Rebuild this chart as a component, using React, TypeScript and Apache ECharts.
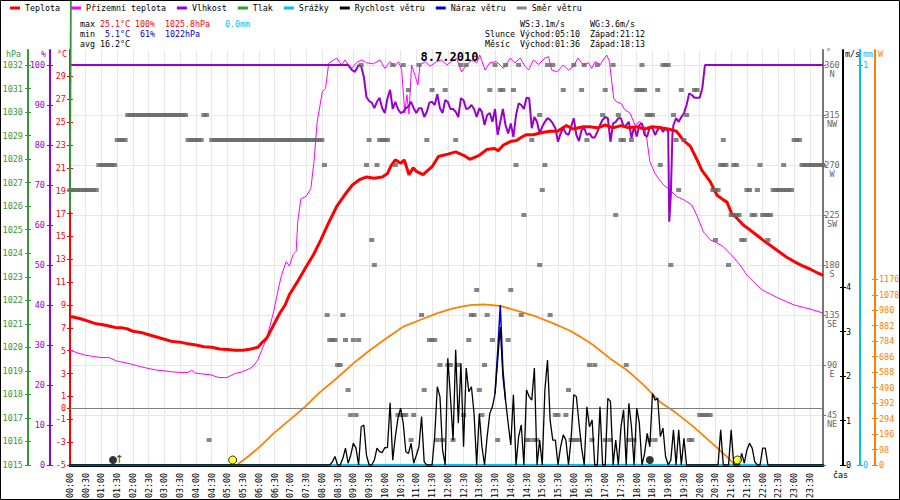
import React, { useEffect, useRef } from "react";
import * as echarts from "echarts";

// ---------- data (time in minutes after midnight) ----------
const legendNames = ["Teplota", "Přízemní teplota", "Vlhkost", "Tlak", "Srážky", "Rychlost větru", "Náraz větru", "Směr větru"];

const temperature: [number, number][] = [
  [0, 8.0], [10, 7.9], [20, 7.8], [30, 7.65], [40, 7.5], [50, 7.35], [60, 7.3], [70, 7.2], [80, 7.1], [90, 7.0], [100, 7.0], [110, 6.9],
  [120, 6.7], [135, 6.6], [150, 6.4], [165, 6.2], [180, 6.0], [195, 5.8], [210, 5.75], [225, 5.6], [240, 5.5], [255, 5.35], [270, 5.3],
  [285, 5.15], [300, 5.1], [315, 5.05], [330, 5.05], [345, 5.15], [358, 5.3], [368, 5.8], [375, 6.1], [388, 7.25], [400, 8.3], [410, 9.0],
  [418, 9.9], [433, 11.0], [448, 12.2], [464, 13.4], [478, 14.7], [493, 16.2], [508, 17.6], [523, 18.6], [538, 19.5], [553, 20.0],
  [565, 20.2], [580, 20.1], [595, 20.2], [605, 20.5], [612, 21.2], [620, 21.7], [630, 21.4], [637, 21.7], [646, 20.4], [654, 21.0],
  [660, 20.7], [673, 20.4], [690, 21.1], [702, 22.0], [720, 22.2], [735, 22.4], [750, 22.1], [762, 21.75], [780, 22.1], [794, 22.6],
  [809, 22.7], [816, 22.5], [826, 23.0], [839, 23.3], [851, 23.4], [861, 23.7], [870, 23.9], [883, 23.9], [900, 24.1], [915, 24.2],
  [929, 24.2], [946, 24.7], [959, 24.4], [978, 24.6], [990, 24.6], [1005, 24.5], [1020, 24.75], [1035, 24.5], [1050, 24.7], [1065, 24.5],
  [1080, 24.6], [1095, 24.4], [1110, 24.6], [1125, 24.5], [1140, 24.4], [1156, 24.2], [1169, 23.4], [1182, 22.9], [1194, 21.8],
  [1204, 20.8], [1220, 19.8], [1233, 18.6], [1245, 18.2], [1252, 18.0], [1261, 17.0], [1271, 16.6], [1283, 16.0], [1295, 15.6],
  [1309, 15.1], [1320, 14.7], [1335, 14.2], [1350, 13.7], [1365, 13.2], [1380, 12.8], [1395, 12.45], [1410, 12.15], [1425, 11.8], [1435, 11.6],
];

const groundTemperature: [number, number][] = [
  [0, 5.05], [15, 4.8], [30, 4.6], [45, 4.5], [59, 4.4], [75, 4.4], [89, 4.1], [105, 3.95], [119, 3.8], [135, 3.6], [149, 3.45],
  [165, 3.3], [178, 3.25], [195, 3.15], [208, 3.1], [225, 3.1], [232, 3.3], [238, 3.05], [255, 2.95], [268, 2.9], [280, 2.7], [286, 2.65],
  [299, 2.65], [314, 3.0], [328, 3.15], [343, 3.45], [350, 3.7], [358, 4.2], [365, 5.0], [375, 6.1], [388, 8.4], [397, 10.4], [403, 11.6],
  [412, 12.8], [418, 12.4], [425, 13.4], [431, 13.7], [434, 16.3], [440, 18.3], [450, 18.5], [459, 19.2], [465, 21.55], [471, 25.0],
  [481, 27.7], [487, 27.95], [493, 30.15], [508, 30.6], [518, 30.0], [524, 30.44], [531, 30.0], [537, 29.7], [546, 30.2], [556, 30.44],
  [565, 30.2], [578, 30.1], [591, 30.44], [600, 29.7], [610, 30.3], [619, 29.9], [626, 30.3], [632, 29.6], [638, 25.8], [642, 27.4],
  [646, 25.7], [651, 30.0], [658, 29.0], [663, 28.25], [667, 30.0], [677, 30.3], [686, 29.9], [699, 30.3], [708, 30.44], [718, 30.0],
  [727, 30.3], [737, 30.6], [746, 29.4], [756, 30.0], [766, 30.44], [775, 30.2], [781, 30.87], [791, 29.56], [800, 30.2], [813, 30.3],
  [826, 29.7], [839, 30.6], [848, 30.2], [858, 30.6], [867, 29.9], [874, 29.56], [883, 30.44], [893, 30.05], [905, 30.6], [912, 30.73],
  [918, 29.56], [928, 29.4], [940, 30.0], [950, 29.56], [959, 29.85], [968, 30.6], [978, 30.0], [988, 30.2], [994, 29.7], [1001, 30.3],
  [1010, 30.0], [1016, 30.44], [1023, 30.87], [1028, 30.3], [1036, 27.1], [1041, 26.8], [1051, 26.6], [1057, 26.1], [1067, 25.8],
  [1077, 24.75], [1086, 25.05], [1094, 24.6], [1099, 23.6], [1105, 21.55], [1115, 20.5], [1121, 20.1], [1131, 19.5], [1140, 19.2],
  [1156, 18.5], [1170, 18.2], [1185, 17.75], [1194, 16.9], [1207, 15.4], [1220, 14.7], [1230, 14.5], [1245, 14.1], [1260, 13.4],
  [1277, 12.5], [1290, 11.6], [1309, 10.75], [1320, 10.3], [1350, 9.6], [1380, 9.0], [1410, 8.65], [1435, 8.3],
];

const humidity: [number, number][] = [
  [0, 100], [530, 100], [537, 98.8], [543, 98.3], [550, 100], [555, 99.6], [560, 97], [565, 92], [570, 91], [575, 90.6], [580, 89.2],
  [585, 90.8], [590, 91.8], [595, 89.2], [600, 88], [605, 91.7], [610, 93.8], [615, 89], [620, 90.8], [625, 89], [630, 88], [635, 88.3],
  [640, 89.2], [645, 89.6], [650, 90.8], [655, 89.2], [660, 88], [665, 89.2], [670, 89.2], [675, 87], [680, 88.3], [685, 90.6],
  [690, 90.8], [695, 90], [700, 92.7], [705, 89.2], [710, 88], [715, 91.2], [720, 90.8], [725, 89], [730, 89], [735, 88.3], [740, 87],
  [745, 91.7], [750, 91.2], [755, 89], [760, 89.2], [765, 90], [770, 89], [775, 87], [780, 89.2], [785, 88.3], [790, 85], [795, 87.5],
  [800, 88], [805, 85.8], [810, 89], [815, 82.5], [820, 85.8], [825, 89], [830, 85], [835, 82.9], [840, 85.4], [845, 82], [850, 87.5],
  [855, 90.4], [860, 90], [865, 89], [870, 91.8], [875, 91.7], [880, 84.2], [885, 87], [890, 85.8], [895, 82.9], [900, 84.6], [905, 85.8],
  [910, 86.7], [915, 86.3], [920, 85.4], [925, 84.2], [930, 80.8], [935, 82.9], [940, 84.2], [945, 82.9], [950, 82.5], [955, 84.6],
  [960, 86.7], [965, 82.5], [970, 81], [975, 83.8], [980, 84.2], [985, 82.5], [990, 82.9], [995, 81.9], [1000, 81.9], [1005, 83.3],
  [1010, 85], [1015, 86.3], [1020, 87], [1025, 86.7], [1030, 80.8], [1035, 85.4], [1040, 85.8], [1045, 86.7], [1050, 86.7], [1055, 84.6],
  [1060, 85], [1065, 85.8], [1070, 81.7], [1075, 84.6], [1080, 82.1], [1085, 85], [1090, 85.4], [1095, 82.5], [1100, 82.1], [1105, 84.6],
  [1110, 84.2], [1115, 82.5], [1120, 83.8], [1125, 84.6], [1130, 83.3], [1135, 84.2], [1140, 83.3], [1142, 60.8], [1145, 67.5],
  [1148, 82.5], [1150, 85], [1155, 86.7], [1160, 85.8], [1165, 87], [1170, 87.9], [1175, 90], [1180, 92.9], [1185, 92.5], [1190, 91.8],
  [1195, 91.8], [1200, 91.8], [1205, 94.2], [1210, 100], [1435, 100],
];

// pressure: only an off-scale first reading is visible, at the very start of the day
const pressureTimes = [0, 1.5];
const pressureValues = [1025.8, 1034.9];
const rain: [number, number][] = [[0, 0], [1435, 0]];

// wind speed, 5-minute samples from 08:00 (one row = one hour)
const windStart = 480;
const windStep = 5;
const windSpeed: number[] = [
  0, 0, 0, 0, 0.07, 0.19, 0, 0, 0.15, 0.38, 0.04, 0.22,
  0.49, 0.38, 0, 0.86, 0.9, 0.22, 0, 0, 0.11, 0.38, 0.3, 0.28,
  0.39, 0.39, 1.4, 0.11, 0.64, 1.05, 1.28, 0.94, 0.3, 0.26, 0.49, 0.04,
  0.22, 0.41, 1.09, 0.07, 0, 0, 0, 0.64, 1.76, 1.54, 0.34, 0,
  2.4, 1.54, 0.56, 2.59, 0.94, 2.29, 0.41, 2.18, 1.65, 1.76, 1.16, 0,
  1.16, 0.41, 0, 0.64, 1.16, 1.31, 1.61, 2.36, 3.1, 1.99, 1.46, 0.94,
  0.45, 1.58, 0, 0.64, 0.9, 0, 1.69, 1.54, 1.46, 2.18, 0, 0.56,
  0, 1.69, 2.36, 1.01, 0.56, 0.56, 0, 0.41, 0.68, 0.56, 0, 0.6,
  1.58, 1.54, 0.94, 0.38, 0, 1.31, 0.86, 1.01, 0, 0, 1.31, 0,
  0, 1.5, 1.43, 0, 0.56, 0, 0.86, 1.24, 0, 1.39, 0.86, 0,
  1.28, 0.94, 0, 0.26, 0.71, 0.41, 1.61, 1.46, 1.5, 0.64, 0.83, 0.19,
  0, 0.11, 0.79, 0, 0.79, 0, 0.6, 0, 0, 0, 0, 0,
  0, 0, 0, 0, 0, 0, 0, 0, 0.79, 0, 0, 0,
  0.79, 0, 0, 0, 0.26, 0.04, 0.34, 0.49, 0.38, 0.07, 0, 0,
  0.38, 0.38, 0, 0, 0, 0, 0, 0, 0, 0, 0, 0,
];

const gust: [number, number][] = [[810, 1.61], [815, 2.55], [820, 3.6], [825, 2.15], [830, 1.46]];

const windDirection: [number, number][] = [
  [0, 247.5], [5, 247.5], [10, 247.5], [15, 247.5], [20, 247.5], [25, 247.5], [30, 247.5], [35, 247.5], [40, 247.5], [45, 247.5], [50, 247.5],
  [55, 270], [60, 270], [65, 270], [70, 270], [75, 270], [80, 270], [85, 270],
  [90, 292.5], [95, 292.5], [100, 292.5], [105, 292.5],
  [110, 315], [115, 315], [120, 315], [125, 315], [130, 315], [135, 315], [140, 315], [145, 315], [150, 315], [155, 315], [160, 315],
  [165, 315], [170, 315], [175, 315], [180, 315], [185, 315], [190, 315], [195, 315], [200, 315], [205, 315], [210, 315], [215, 315], [220, 315],
  [225, 292.5], [230, 292.5], [235, 292.5], [240, 292.5], [245, 292.5], [250, 292.5],
  [255, 315], [260, 315], [265, 22.5],
  [270, 292.5], [275, 292.5], [280, 292.5], [285, 292.5], [290, 292.5], [295, 292.5], [300, 292.5], [305, 292.5], [310, 292.5],
  [315, 292.5], [320, 292.5], [325, 292.5], [330, 292.5], [335, 292.5], [340, 292.5], [345, 292.5], [350, 292.5], [355, 292.5],
  [360, 292.5], [365, 292.5], [370, 292.5], [375, 292.5], [380, 292.5], [385, 292.5], [390, 292.5], [395, 292.5], [400, 292.5],
  [405, 292.5], [410, 292.5], [415, 292.5], [420, 292.5], [425, 292.5], [430, 292.5], [435, 292.5], [440, 292.5], [445, 292.5],
  [450, 292.5], [455, 292.5], [460, 292.5], [465, 292.5], [470, 292.5], [475, 292.5], [480, 292.5],
  [485, 270], [490, 135], [495, 112.5], [500, 112.5], [505, 112.5], [510, 90], [515, 90], [520, 135], [525, 112.5], [530, 67.5],
  [535, 45], [540, 112.5], [545, 45], [550, 112.5], [555, 360], [565, 270], [570, 292.5], [575, 202.5], [580, 180], [585, 270],
  [590, 292.5], [595, 292.5], [600, 292.5], [605, 292.5], [615, 360], [620, 270], [625, 45], [630, 45], [635, 45], [640, 45], [635, 360],
  [645, 337.5], [650, 22.5], [655, 45], [665, 360], [670, 135], [675, 67.5], [680, 292.5], [685, 112.5], [690, 112.5], [695, 112.5],
  [690, 337.5], [700, 22.5], [705, 90], [710, 22.5], [715, 337.5], [720, 90], [725, 90], [730, 22.5], [735, 292.5], [740, 90],
  [745, 360], [750, 45], [755, 360], [760, 112.5], [765, 135], [770, 135], [775, 157.5], [780, 67.5], [785, 45], [790, 90], [795, 135],
  [800, 337.5], [805, 112.5], [810, 360], [815, 22.5], [820, 337.5], [825, 337.5], [830, 360], [835, 112.5], [840, 157.5], [845, 337.5],
  [850, 270], [855, 360], [860, 135], [865, 225], [870, 22.5], [875, 22.5], [885, 22.5], [890, 22.5], [880, 292.5], [895, 315], [895, 180],
  [900, 247.5], [905, 270], [910, 360], [915, 135], [920, 360], [925, 45], [930, 45], [940, 337.5], [945, 45], [950, 67.5],
  [955, 22.5], [960, 22.5], [965, 22.5], [970, 22.5], [960, 360], [975, 337.5], [980, 360], [985, 292.5], [990, 90], [995, 22.5],
  [1000, 90], [1005, 360], [1015, 315], [1020, 337.5], [1020, 22.5], [1030, 22.5], [1035, 360], [1040, 225], [1045, 315],
  [1050, 292.5], [1055, 292.5], [1060, 90], [1065, 22.5], [1070, 292.5], [1075, 22.5], [1080, 337.5], [1085, 337.5], [1090, 337.5],
  [1095, 337.5], [1090, 360], [1100, 315], [1105, 315], [1110, 315], [1105, 22.5], [1115, 22.5], [1120, 337.5], [1125, 270],
  [1130, 360], [1135, 360], [1140, 360], [1145, 180], [1150, 315], [1155, 292.5], [1160, 247.5], [1165, 337.5], [1170, 292.5],
  [1175, 315], [1180, 22.5], [1185, 22.5], [1190, 337.5], [1195, 337.5], [1200, 45], [1205, 45], [1210, 45], [1215, 45], [1220, 45],
  [1225, 247.5], [1230, 247.5], [1235, 247.5], [1230, 202.5], [1240, 270], [1245, 270], [1250, 270], [1245, 292.5], [1255, 180],
  [1260, 225], [1265, 225], [1270, 225], [1275, 225], [1265, 270], [1270, 270], [1280, 202.5], [1285, 202.5], [1290, 247.5],
  [1295, 247.5], [1300, 225], [1305, 225], [1310, 247.5], [1315, 270], [1320, 225], [1325, 225], [1330, 225], [1335, 225], [1330, 202.5],
  [1340, 247.5], [1345, 247.5], [1350, 247.5], [1355, 247.5], [1360, 247.5], [1365, 247.5], [1370, 247.5], [1375, 247.5], [1360, 270],
  [1380, 292.5], [1385, 292.5], [1390, 292.5], [1395, 270], [1400, 270], [1405, 270], [1410, 270], [1415, 270], [1420, 270],
  [1425, 270], [1430, 270], [1435, 270],
];

const solar: [number, number][] = [
  [318, 0], [340, 55], [362, 116], [388, 200], [426, 306], [448, 369], [476, 460], [505, 540], [540, 644], [572, 728], [603, 802],
  [635, 876], [667, 918], [699, 960], [730, 992], [762, 1013], [788, 1017], [820, 1007], [858, 971], [889, 939], [921, 897],
  [953, 850], [972, 813], [997, 760], [1029, 675], [1061, 602], [1093, 507], [1124, 401], [1156, 327], [1188, 243], [1220, 148],
  [1252, 53], [1267, 0],
];

const sunEvents = [310, 1272];   // sunrise 05:10, sunset 21:12
const moonEvents = [82, 1105];   // moon symbols as drawn
const moonRiseArrow = [94];

const tempTicks = [-5, -3, -1, 0, 1, 3, 5, 7, 9, 11, 13, 15, 17, 19, 21, 23, 25, 27, 29];
const windTicks = [0, 1, 2, 3, 4];
const rainTicks = [0, 1];
const solarTicks = [0, 98, 196, 294, 392, 490, 588, 686, 784, 882, 980, 1078, 1176];
const compass = ["", "NE", "E", "SE", "S", "SW", "W", "NW", "N"];

// ---------- styles ----------
const FONT = "'DejaVu Sans Mono', monospace";
const COL = {
  temp: "#ff0000", ground: "#ff00ff", hum: "#9900cc", press: "#339933", rain: "#00bfff",
  wind: "#000000", gust: "#0000cc", dir: "#666666", sun: "#ff8000", minBlue: "#0000cc",
};

function hhmm(v: number) {
  const h = Math.floor(v / 60);
  const m = Math.round(v % 60);
  return `${String(h).padStart(2, "0")}:${String(m).padStart(2, "0")}`;
}
const plain = (v: number) => String(v);

export default function App() {
  const ref = useRef<HTMLDivElement>(null);

  useEffect(() => {
    document.body.style.margin = "0";
    const chart = echarts.init(ref.current as HTMLDivElement, undefined, { renderer: "svg" });

    const windData: [number, number][] = [[0, 0]];
    windSpeed.forEach((v, i) => windData.push([windStart + i * windStep, v]));
    windData.push([1435, 0]);
    const pressureData = pressureTimes.map((t, i) => [t, pressureValues[i]]);

    const lbl = (color: string, margin: number, extra: any = {}) => ({
      color, fontFamily: FONT, fontSize: 8.5, margin, formatter: plain, ...extra,
    });
    const tick = (color: string, extra: any = {}) => ({ show: true, length: 3, lineStyle: { color, width: 1 }, ...extra });
    const noLine = { show: false, onZero: false };

    const axisDefs = [
      { pos: "left", off: 0, color: COL.temp },
      { pos: "left", off: 20, color: COL.hum },
      { pos: "left", off: 42, color: COL.press },
      { pos: "right", off: 0, color: "#777777" },
      { pos: "right", off: 20, color: "#000000" },
      { pos: "right", off: 37, color: COL.rain },
      { pos: "right", off: 52, color: COL.sun },
    ];

    const mainY: any[] = [
      {
        type: "value", gridIndex: 0, position: "left", offset: 0, min: -5, max: 30,
        axisLine: noLine, splitLine: { show: false },
        axisTick: tick(COL.temp, { customValues: tempTicks }),
        axisLabel: lbl(COL.temp, 4, { customValues: tempTicks }),
      },
      {
        type: "value", gridIndex: 0, position: "left", offset: 20, min: 0, max: 100, interval: 10,
        axisLine: noLine, splitLine: { show: false },
        axisTick: tick(COL.hum), axisLabel: lbl(COL.hum, 5),
      },
      {
        type: "value", gridIndex: 0, position: "left", offset: 42, min: 1015, max: 1032, interval: 1,
        axisLine: noLine, splitLine: { show: false },
        axisTick: tick(COL.press), axisLabel: lbl(COL.press, 5),
      },
      {
        type: "value", gridIndex: 0, position: "right", offset: 0, min: 0, max: 360, interval: 45,
        axisLine: noLine,
        splitLine: { show: true, lineStyle: { color: "#e6e6e6", width: 1 } },
        axisTick: tick("#777777"),
        axisLabel: lbl(COL.dir, 9, {
          align: "center", lineHeight: 9,
          formatter: (v: number) => (v === 0 ? "" : ` \n${v}\n${compass[Math.round(v / 45)]}`),
        }),
      },
      {
        type: "value", gridIndex: 0, position: "right", offset: 20, min: 0, max: 9,
        axisLine: noLine, splitLine: { show: false },
        axisTick: tick("#000", { customValues: windTicks }),
        axisLabel: lbl("#000", 3, { customValues: windTicks }),
      },
      {
        type: "value", gridIndex: 0, position: "right", offset: 37, min: 0, max: 1,
        axisLine: noLine, splitLine: { show: false },
        axisTick: tick(COL.rain, { customValues: rainTicks }),
        axisLabel: lbl(COL.rain, 3, { customValues: rainTicks }),
      },
      {
        type: "value", gridIndex: 0, position: "right", offset: 52, min: 0, max: 2533,
        axisLine: noLine, splitLine: { show: false },
        axisTick: tick(COL.sun, { customValues: solarTicks }),
        axisLabel: lbl(COL.sun, 4, { customValues: solarTicks }),
      },
    ];

    // twin axes that only draw the inner half of each tick, so ticks cross the axis line
    const innerTickY = mainY
      .filter((_, i) => i !== 3)
      .map((a) => ({
        ...a,
        axisLabel: { show: false },
        splitLine: { show: false },
        axisTick: { ...a.axisTick, inside: true },
      }));

    const lineY = axisDefs.map((d) => ({
      type: "value", gridIndex: 1, position: d.pos, offset: d.off, min: 0, max: 1,
      axisLine: { show: true, onZero: false, lineStyle: { color: d.color, width: 2 } },
      axisTick: { show: false }, axisLabel: { show: false }, splitLine: { show: false },
    }));

    const line = (name: string, data: any, yAxisIndex: number, color: string, width: number, z: number, extra: any = {}) => ({
      name, type: "line", data, xAxisIndex: 0, yAxisIndex, z,
      symbol: "none", showSymbol: false,
      itemStyle: { color }, lineStyle: { color, width },
      ...extra,
    });

    const txt = (x: number, y: number, text: string, fill: string, extra: any = {}) => ({
      type: "text", x, y, z: 100, silent: true,
      style: { text, fill, fontFamily: FONT, fontSize: 8.3, align: "left", verticalAlign: "middle", ...extra },
    });

    const graphicEls: any[] = [
      { type: "rect", z: 100, silent: true, shape: { x: 0.5, y: 0.5, width: 899, height: 499 }, style: { fill: "none", stroke: "#000", lineWidth: 1 } },
      // statistics block
      txt(80, 24, "max", "#000"),
      txt(100, 24, "25.1°C", COL.temp),
      txt(135, 24, "100%", COL.temp),
      txt(165, 24, "1025.8hPa", COL.temp),
      txt(225, 24, "0.0mm", COL.rain),
      txt(80, 34, "min", "#000"),
      txt(105, 34, "5.1°C", COL.minBlue),
      txt(140, 34, "61%", COL.minBlue),
      txt(165, 34, "1022hPa", COL.minBlue),
      txt(80, 44, "avg 16.2°C", "#000"),
      txt(520, 24, "WS:3.1m/s", "#000"),
      txt(590, 24, "WG:3.6m/s", "#000"),
      txt(485, 34, "Slunce", "#000"),
      txt(520, 34, "Východ:05:10", "#000"),
      txt(590, 34, "Západ:21:12", "#000"),
      txt(485, 44, "Měsíc", "#000"),
      txt(520, 44, "Východ:01:36", "#000"),
      txt(590, 44, "Západ:18:13", "#000"),
      // axis units
      txt(6, 54, "hPa", COL.press),
      txt(41, 54, "%", COL.hum),
      txt(57, 54, "°C", COL.temp),
      txt(826, 52, "°", COL.dir),
      txt(845, 54, "m/s", "#000"),
      txt(863, 54, "mm", COL.rain),
      txt(878, 54, "W", COL.sun),
      txt(833, 475, "čas", "#000"),
      // title
      txt(449.5, 56.5, "8.7.2010", "#000", { align: "center", fontSize: 12, fontWeight: "bold" }),
    ];

    const option: any = {
      animation: false,
      backgroundColor: "#ffffff",
      grid: [
        { left: 70, right: 77, top: 65, bottom: 35, containLabel: false, outerBoundsMode: "none" },
        { left: 70, right: 77, top: 50, bottom: 35, containLabel: false, outerBoundsMode: "none" },
      ],
      legend: {
        data: legendNames, left: 10, top: 4, padding: 0, itemWidth: 10, itemHeight: 3, itemGap: 11,
        icon: "rect", selectedMode: false,
        textStyle: { fontFamily: FONT, fontSize: 8.3, color: "#000" },
      },
      xAxis: [
        {
          type: "value", gridIndex: 0, min: 0, max: 1435, interval: 30,
          axisLine: { show: true, onZero: false, lineStyle: { color: "#000", width: 3 } },
          axisTick: { show: false },
          splitLine: { show: false },
          axisLabel: {
            rotate: 90, formatter: hhmm, fontFamily: FONT, fontSize: 8.3, color: "#000", margin: 8,
            showMaxLabel: false,
          },
        },
        {
          type: "value", gridIndex: 1, min: 0, max: 1435, interval: 30,
          axisLine: { show: false, onZero: false }, axisTick: { show: false }, axisLabel: { show: false },
          splitLine: { show: true, lineStyle: { color: "#e6e6e6", width: 1 } },
        },
      ],
      yAxis: [...mainY, ...lineY, ...innerTickY],
      series: [
        line("Srážky", rain, 5, COL.rain, 2, 2),
        line("Přízemní teplota", groundTemperature, 0, COL.ground, 1, 3, { clip: false }),
        line("Vlhkost", humidity, 1, COL.hum, 2, 3, { clip: false }),
        {
          name: "Sun", type: "line", data: solar, xAxisIndex: 0, yAxisIndex: 6, z: 3,
          symbol: "none", lineStyle: { color: COL.sun, width: 1.8 }, itemStyle: { color: COL.sun },
        },
        line("Teplota", temperature, 0, COL.temp, 3, 4, {
          markLine: {
            silent: true, symbol: ["none", "none"], label: { show: false },
            lineStyle: { color: "#808080", width: 1, type: "solid" },
            data: [{ yAxis: 0 }],
          },
        }),
        {
          name: "Tlak", type: "line", data: pressureData, xAxisIndex: 0, yAxisIndex: 2, z: 9,
          clip: false, symbol: "none", showSymbol: false,
          itemStyle: { color: COL.press }, lineStyle: { color: COL.press, width: 1.5 },
        },
        {
          name: "Směr větru", type: "scatter", data: windDirection, xAxisIndex: 0, yAxisIndex: 3, z: 5,
          symbol: "rect", symbolSize: [5, 4], itemStyle: { color: COL.dir },
        },
        line("Náraz větru", gust, 4, COL.gust, 1.5, 6),
        line("Rychlost větru", windData, 4, COL.wind, 1.3, 7),
        {
          name: "Slunce", type: "scatter", xAxisIndex: 0, yAxisIndex: 4, z: 8,
          data: sunEvents.map((t) => [t, 0]),
          symbol: "circle", symbolSize: 8, symbolOffset: [0, -5],
          itemStyle: { color: "#ffff00", borderColor: "#000", borderWidth: 1 },
        },
        {
          name: "Měsíc", type: "scatter", xAxisIndex: 0, yAxisIndex: 4, z: 8,
          data: moonEvents.map((t) => [t, 0]),
          symbol: "circle", symbolSize: 8, symbolOffset: [0, -5],
          itemStyle: { color: "#000" },
        },
        {
          name: "MoonArrow", type: "scatter", xAxisIndex: 0, yAxisIndex: 4, z: 8,
          data: moonRiseArrow.map((t) => [t, 0]),
          symbol: "rect", symbolSize: 1, itemStyle: { color: "rgba(0,0,0,0)" },
          label: { show: true, formatter: "↑", position: "top", distance: 0, fontSize: 11, color: "#000", fontFamily: "DejaVu Sans" },
        },
      ],
      graphic: graphicEls,
    };

    chart.setOption(option);

    // the off-scale pressure reading, placed through the pressure axis' own scale
    const p0 = chart.convertToPixel({ xAxisIndex: 0, yAxisIndex: 2 }, pressureData[0]) as number[];
    const p1 = chart.convertToPixel({ xAxisIndex: 0, yAxisIndex: 2 }, pressureData[1]) as number[];
    if (p0 && p1 && isFinite(p0[1]) && isFinite(p1[1])) {
      chart.setOption({
        graphic: [
          ...graphicEls,
          {
            type: "line", z: 50, silent: true,
            shape: { x1: p0[0], y1: p0[1], x2: p1[0], y2: p1[1] },
            style: { stroke: COL.press, lineWidth: 1.5 },
          },
        ],
      });
    }

    return () => chart.dispose();
  }, []);

  return <div ref={ref} style={{ width: 900, height: 500 }} />;
}
